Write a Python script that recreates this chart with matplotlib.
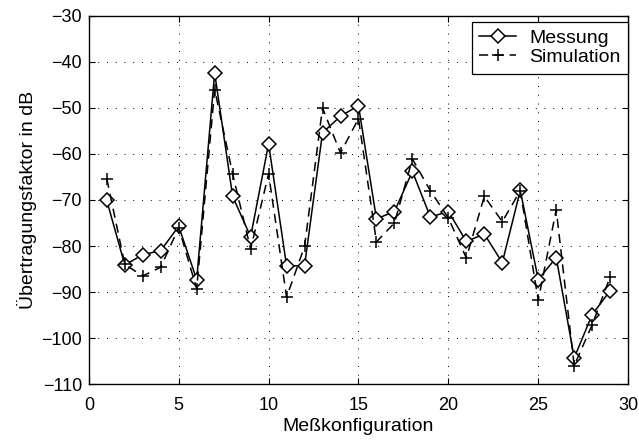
import numpy as np
import matplotlib
matplotlib.use("Agg")
import matplotlib.pyplot as plt

# Messung vs. Simulation per configuration
config = list(range(1, 30))
messung = [-70.1, -84.1, -81.9, -81.0, -75.7, -87.3, -42.4, -69.2, -78.0, -57.8,
           -84.3, -84.3, -55.4, -51.8, -49.5, -74.1, -72.5, -63.8, -73.7, -72.5,
           -79.0, -77.4, -83.6, -67.9, -87.3, -82.5, -104.3, -94.9, -89.7]
simulation = [-65.4, -84.0, -86.5, -84.6, -76.0, -89.3, -46.0, -64.3, -80.7, -64.3,
              -91.1, -80.1, -50.0, -59.8, -52.3, -79.1, -75.0, -61.1, -68.0, -73.9,
              -82.6, -69.2, -74.7, -68.0, -91.8, -72.1, -106.0, -97.1, -86.7]

plt.rcParams['font.family'] = ['Liberation Sans', 'DejaVu Sans']
plt.rcParams['font.size'] = 13

fig = plt.figure(figsize=(6.39, 4.41), dpi=100)
ax = fig.add_axes([0.139, 0.129, 0.844, 0.835])

ax.plot(config, messung, '-', color='k', lw=1.1, marker='D', markersize=7,
        markerfacecolor='white', markeredgewidth=1.1, label='Messung')
ax.plot(config, simulation, '--', color='k', lw=1.1, dashes=(6, 4), marker='+',
        markersize=9, markeredgewidth=1.1, label='Simulation')

ax.set_xlim(0, 30)
ax.set_ylim(-110, -30)
ax.set_xticks(np.arange(0, 31, 5))
ax.set_yticks(np.arange(-110, -29, 10))
ax.set_yticklabels(['\u2212%d' % abs(v) for v in range(-110, -29, 10)])
ax.grid(True, linestyle=(0, (1, 8)), color='k', lw=0.7)
ax.tick_params(direction='in', top=True, right=True, length=4, width=0.8,
               labelsize=13)
ax.tick_params(axis='x', pad=9)
ax.tick_params(axis='y', pad=5)
for s in ax.spines.values():
    s.set_linewidth(1.0)

ax.set_xlabel('Meßkonfiguration', fontsize=14, labelpad=3)
ax.set_ylabel('Übertragungsfaktor in dB', fontsize=14, labelpad=3)

leg = ax.legend(loc='upper right', bbox_to_anchor=(1.0, 1 - 6 / 368),
                fancybox=False, edgecolor='k', framealpha=1, fontsize=14,
                handlelength=1.9, handletextpad=0.65, borderaxespad=0,
                borderpad=0.4, labelspacing=0.05)
leg.get_frame().set_linewidth(0.9)

fig.savefig('out.png', dpi=100)
